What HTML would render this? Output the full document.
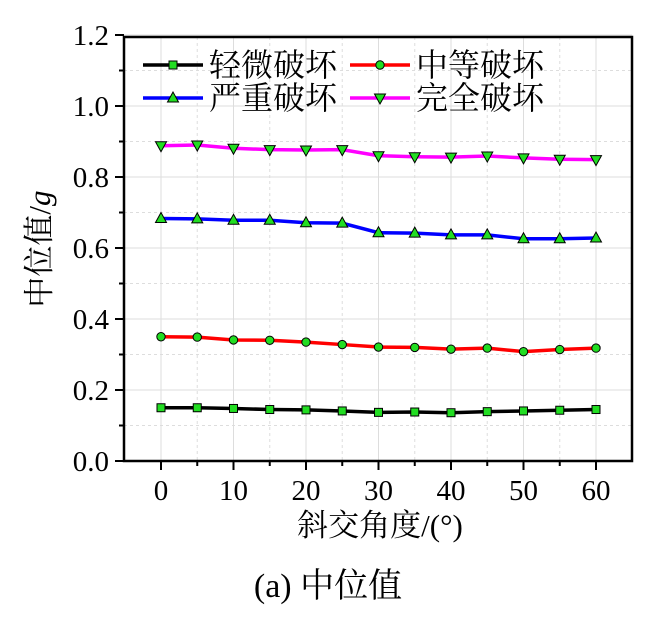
<!DOCTYPE html>
<html><head><meta charset="utf-8"><style>body{margin:0;background:#fff}</style></head><body>
<svg width="658" height="623" xmlns="http://www.w3.org/2000/svg" font-family="'Liberation Serif','Noto Serif CJK SC',serif">
<g id="grid"></g>
<g id="series"></g>
<rect x="124" y="37" width="508" height="424" fill="none" stroke="#000" stroke-width="2.5"/>
<g id="ticks" stroke="#000" stroke-width="2"></g>
<g font-size="29" text-anchor="end" id="ylab"></g>
<g font-size="29" text-anchor="middle" id="xlab"></g>
<text x="380" y="536" font-size="31" text-anchor="middle">斜交角度/(°)</text>
<text transform="translate(50,249) rotate(-90)" font-size="31" text-anchor="middle">中位值/<tspan font-style="italic">g</tspan></text>
<text x="328" y="597" font-size="34" text-anchor="middle">(a)  中位值</text>
<g id="legend" font-size="32"></g>
</svg>
<script>
const ns="http://www.w3.org/2000/svg";
function el(p,t,a,txt){const e=document.createElementNS(ns,t);for(const k in a)e.setAttribute(k,a[k]);if(txt!=null)e.textContent=txt;document.getElementById(p).appendChild(e);return e;}
const X=v=>161+v*7.25, Y=v=>461-v*355;
for(let v=0;v<=60;v+=5){el('grid','line',{x1:X(v),x2:X(v),y1:37,y2:461,stroke:'#ddd','stroke-width':1,'stroke-dasharray':v%10?'3,3':''});
 el('ticks','line',{x1:X(v),x2:X(v),y1:461,y2:v%10?466:470});
 if(v%10==0)el('xlab','text',{x:X(v),y:500},v);}
for(let i=0;i<=12;i++){const v=i/10;el('grid','line',{x1:124,x2:632,y1:Y(v),y2:Y(v),stroke:'#ddd','stroke-width':1,'stroke-dasharray':i%2?'3,3':''});
 el('ticks','line',{x1:124,x2:i%2?119:115,y1:Y(v),y2:Y(v)});
 if(i%2==0)el('ylab','text',{x:109,y:Y(v)+10},v.toFixed(1));}
const data=[
['#000','s',[.150,.150,.148,.145,.144,.141,.137,.138,.136,.139,.141,.143,.145]],
['#f00','c',[.350,.349,.341,.340,.335,.328,.321,.320,.315,.318,.308,.314,.318]],
['#00f','u',[.683,.682,.678,.678,.671,.670,.643,.642,.637,.637,.626,.626,.628]],
['#f0f','d',[.888,.890,.881,.877,.876,.877,.860,.857,.856,.859,.854,.850,.849]]];
function mk(g,t,x,y){const a={fill:'#2d2',stroke:'#000','stroke-width':1};
 if(t=='s')el(g,'rect',Object.assign({x:x-4,y:y-4,width:8,height:8},a));
 else if(t=='c')el(g,'circle',Object.assign({cx:x,cy:y,r:4.2},a));
 else if(t=='u')el(g,'polygon',Object.assign({points:`${x},${y-6} ${x-5.5},${y+4} ${x+5.5},${y+4}`},a));
 else el(g,'polygon',Object.assign({points:`${x},${y+6} ${x-5.5},${y-4} ${x+5.5},${y-4}`},a));}
data.forEach(([c,t,d])=>{el('series','polyline',{points:d.map((v,i)=>X(i*5)+','+Y(v)).join(' '),fill:'none',stroke:c,'stroke-width':3.5});
 d.forEach((v,i)=>mk('series',t,X(i*5),Y(v)));});
const L=[[143,65,'轻微破坏',0],[350,65,'中等破坏',1],[143,98,'严重破坏',2],[350,98,'完全破坏',3]];
L.forEach(([x,y,s,i])=>{el('legend','line',{x1:x,x2:x+60,y1:y,y2:y,stroke:data[i][0],'stroke-width':3.5});mk('legend',data[i][1],x+30,y);el('legend','text',{x:x+66,y:y+11},s);});
</script>
</body></html>
